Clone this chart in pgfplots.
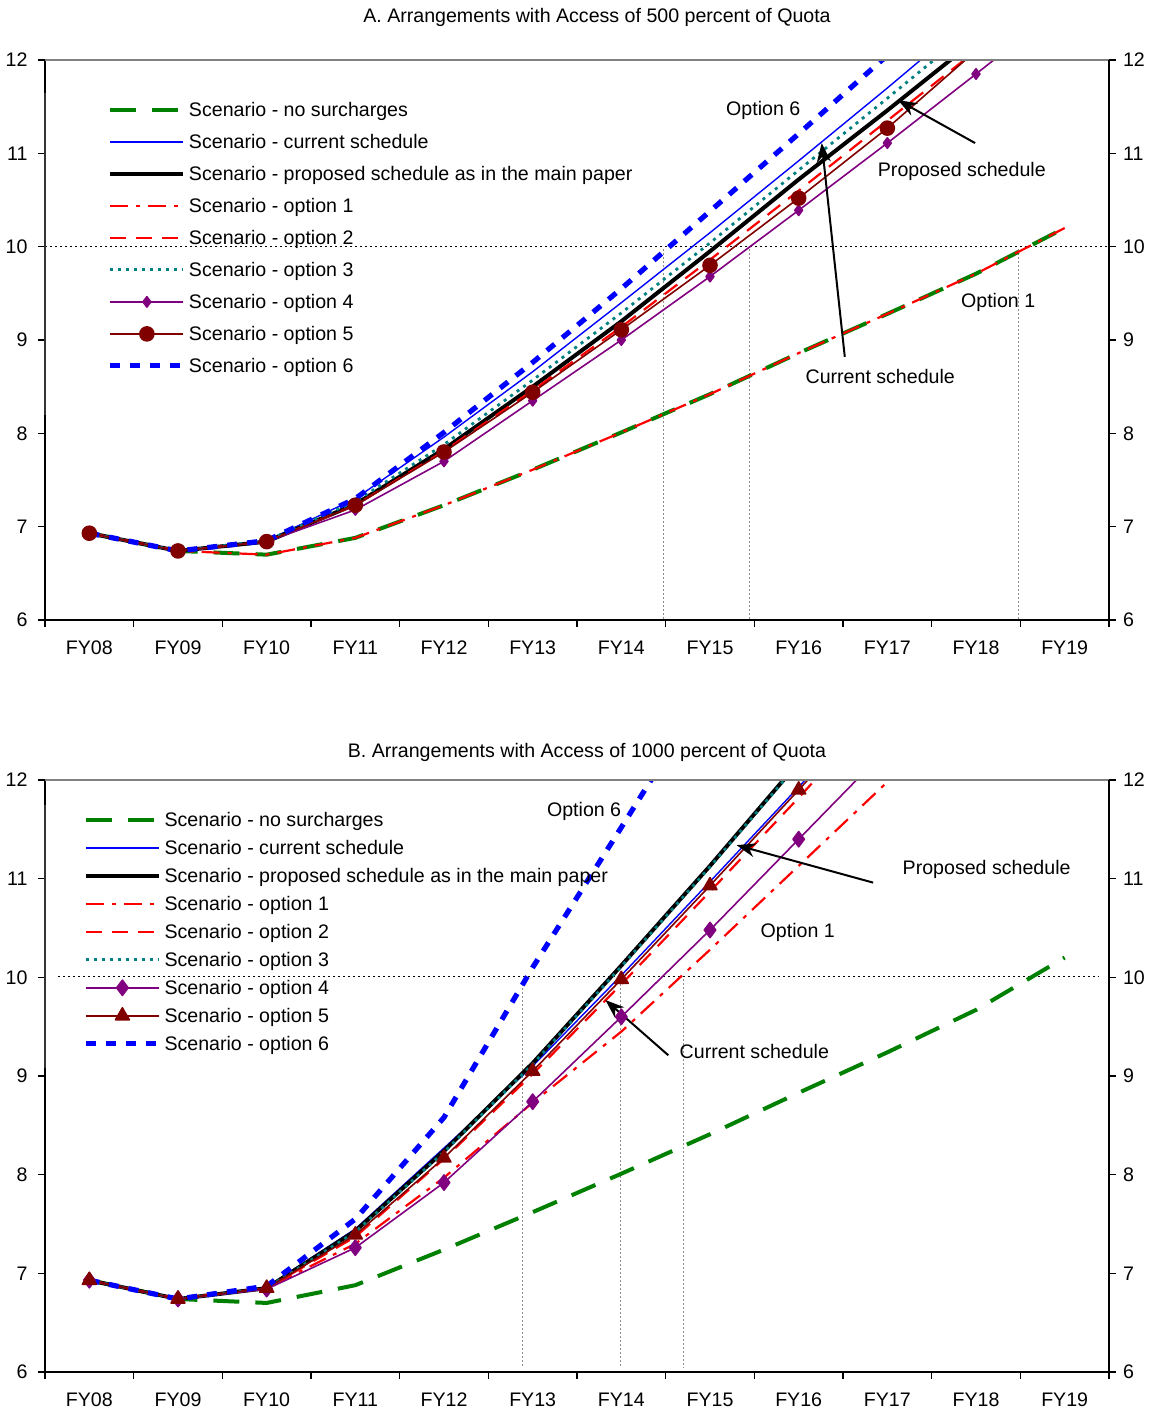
\documentclass[border=0pt]{standalone}
\usepackage{pgfplots}
\usepackage{pgfplotstable}
\pgfplotsset{compat=1.18}
\usepackage{fontspec}
\setmainfont{Liberation Sans}
\usetikzlibrary{arrows.meta}
\definecolor{ggreen}{RGB}{0,128,0}
\definecolor{tteal}{RGB}{0,128,128}
\definecolor{ppurple}{RGB}{128,0,128}
\definecolor{dred}{RGB}{128,0,0}
\definecolor{bblue}{RGB}{0,0,255}
\definecolor{rred}{RGB}{255,0,0}
\newcommand{\fs}{\fontsize{9.8}{11.8}\selectfont}

\pgfplotstableread{
x nosur cur prop o1 o2 o3 o4 o5 o6
0 6.93 6.93 6.93 6.93 6.93 6.93 6.93 6.93 6.93
1 6.74 6.74 6.74 6.74 6.74 6.74 6.74 6.74 6.74
2 6.70 6.85 6.84 6.70 6.84 6.85 6.84 6.84 6.85
3 6.88 7.30 7.24 6.88 7.23 7.27 7.18 7.23 7.30
4 7.23 7.96 7.83 7.23 7.81 7.88 7.70 7.80 8.01
5 7.61 8.66 8.50 7.61 8.46 8.57 8.35 8.44 8.76
6 8.01 9.40 9.20 8.01 9.14 9.29 9.00 9.11 9.55
7 8.42 10.15 9.95 8.42 9.86 10.04 9.68 9.80 10.38
8 8.86 10.92 10.72 8.86 10.60 10.82 10.39 10.52 11.21
9 9.28 11.70 11.46 9.28 11.35 11.59 11.11 11.27 12.05
10 9.71 12.50 12.22 9.71 12.10 12.37 11.85 12.10 12.90
11 10.20 13.30 13.00 10.20 12.85 13.15 12.60 12.90 13.75
}\tableA

\pgfplotstableread{
x nosur cur prop o1 o2 o3 o4 o5 o6
0 6.93 6.93 6.93 6.93 6.93 6.93 6.93 6.93 6.93
1 6.74 6.74 6.74 6.74 6.74 6.74 6.74 6.74 6.74
2 6.70 6.86 6.85 6.85 6.85 6.85 6.84 6.85 6.87
3 6.88 7.45 7.43 7.30 7.37 7.42 7.26 7.39 7.55
4 7.24 8.27 8.24 7.97 8.16 8.23 7.92 8.17 8.58
5 7.62 9.10 9.13 8.73 9.02 9.12 8.74 9.05 10.10
6 8.01 10.02 10.12 9.45 9.93 10.11 9.60 9.98 11.52
7 8.41 10.97 11.13 10.28 10.87 11.12 10.48 10.93 12.95
8 8.83 11.93 12.18 11.13 11.82 12.17 11.40 11.90 14.40
9 9.24 12.90 13.25 11.98 12.80 13.24 12.32 12.88 15.80
10 9.67 13.90 14.30 12.85 13.80 14.30 13.25 13.87 17.20
11 10.20 14.90 15.35 13.72 14.80 15.35 14.18 14.86 18.60
}\tableB

\tikzset{
  arr/.style={black, line width=1pt, -{Stealth[length=9.5pt,width=7pt]}},
}
\pgfplotsset{
  sNoSur/.style={color=ggreen, line width=2pt, dash pattern=on 13pt off 8pt},
  sCur/.style={color=bblue, line width=0.7pt},
  sProp/.style={color=black, line width=2pt},
  sO1/.style={color=rred, line width=1.1pt, dash pattern=on 9pt off 4pt on 2pt off 4pt},
  sO2/.style={color=rred, line width=1.1pt, dash pattern=on 8pt off 5pt},
  sO3/.style={color=tteal, line width=1.4pt, dash pattern=on 1.5pt off 2.5pt},
  sO4/.style={color=ppurple, line width=0.8pt},
  sO5/.style={color=dred, line width=0.8pt},
  sO6/.style={color=bblue, line width=2.6pt, dash pattern=on 5pt off 5pt},
  baseax/.style={scale only axis, width=532pt, xmin=-0.5, xmax=11.5, ymin=6, ymax=12,
    anchor=south west, axis line style={draw=none},
    tick align=outside, major tick length=3.5pt, tick style={black, line width=0.6pt},
    /pgf/number format/assume math mode=true,
    ticklabel style={font=\fs}, ytick={6,...,12}},
  mainax/.style={baseax,
    xtick={-0.5,0.5,...,11.5}, xticklabels={},
    extra x ticks={0,...,11},
    extra x tick labels={FY08,FY09,FY10,FY11,FY12,FY13,FY14,FY15,FY16,FY17,FY18,FY19},
    extra x tick style={tick style={draw=none}, xticklabel style={yshift=-3.5pt}},
    xtick pos=left, ytick pos=left, yticklabel style={xshift=-1.7pt},
    legend cell align=left,
    legend image code/.code={\draw[mark repeat=2,mark phase=2,##1] plot coordinates {(0pt,0pt) (18.25pt,0pt) (36.5pt,0pt)};},
    line join=round},
  rightax/.style={baseax, xtick=\empty, ytick pos=right, yticklabel pos=right, clip=false},
  refl/.style={black, line width=0.5pt, dash pattern=on 1pt off 1.5pt, forget plot},
  dropl/.style={black!45, line width=0.5pt, dash pattern=on 1pt off 1pt, forget plot},
}

\begin{document}
\begin{tikzpicture}
\path[use as bounding box] (0pt,0pt) rectangle (577pt,-706pt);
\node[font=\fs] at (298.5pt,-8.5pt) {A. Arrangements with Access of 500 percent of Quota};
\node[font=\fs] at (293.5pt,-376pt) {B. Arrangements with Access of 1000 percent of Quota};

% ---------------- Panel A ----------------
\begin{axis}[mainax, height=280pt, at={(22.5pt,-310pt)},
  legend style={draw=none, fill=none, at={(rel axis cs:0.059,0.927)}, anchor=north west,
    font=\fs, inner sep=0pt, outer sep=0pt, row sep=7pt, column sep=1.5pt,
    nodes={inner sep=0pt, text height=8pt, text depth=1pt}}]
\addplot[refl] coordinates {(-0.5,10) (11.5,10)};
\addplot[dropl] coordinates {(6.47,9.97) (6.47,6)};
\addplot[dropl] coordinates {(7.45,9.97) (7.45,6)};
\addplot[dropl] coordinates {(10.48,9.97) (10.48,6)};
\addplot[sNoSur] table[x=x,y=nosur]{\tableA};
\addlegendentry{Scenario - no surcharges}
\addplot[sCur] table[x=x,y=cur]{\tableA};
\addlegendentry{Scenario - current schedule}
\addplot[sProp] table[x=x,y=prop]{\tableA};
\addlegendentry{Scenario - proposed schedule as in the main paper}
\addplot[sO1] table[x=x,y=o1]{\tableA};
\addlegendentry{Scenario - option 1}
\addplot[sO2] table[x=x,y=o2]{\tableA};
\addlegendentry{Scenario - option 2}
\addplot[sO3] table[x=x,y=o3]{\tableA};
\addlegendentry{Scenario - option 3}
\addplot[sO4, mark=diamond*, mark size=2.6pt, mark options={solid, fill=ppurple}] table[x=x,y=o4]{\tableA};
\addlegendentry{Scenario - option 4}
\addplot[sO5, mark=*, mark size=3.5pt, mark options={solid, fill=dred}] table[x=x,y=o5]{\tableA};
\addlegendentry{Scenario - option 5}
\addplot[sO6] table[x=x,y=o6]{\tableA};
\addlegendentry{Scenario - option 6}
\draw[arr] (axis cs:9.99,11.11) -- (axis cs:9.12,11.57);
\draw[arr] (axis cs:8.52,8.82) -- (axis cs:8.26,11.11);
\node[font=\fs] at (axis cs:7.60,11.46) {Option 6};
\node[font=\fs] at (axis cs:9.84,10.81) {Proposed schedule};
\node[font=\fs] at (axis cs:10.25,9.40) {Option 1};
\node[font=\fs] at (axis cs:8.92,8.61) {Current schedule};
\end{axis}
\begin{axis}[rightax, height=280pt, at={(22.5pt,-310pt)}]
\addplot[draw=none, forget plot] coordinates {(0,6)};
\draw[black!80, line width=0.6pt] (rel axis cs:0,0) -- (rel axis cs:0,1);
\draw[black, line width=1pt] (rel axis cs:0,1) -- (rel axis cs:0,0.941);
\draw[black, line width=1pt] (rel axis cs:0,0) -- (rel axis cs:0,0.366);
\draw[black!50, line width=1pt] (rel axis cs:0,1) -- (rel axis cs:1,1);
\draw[black, line width=1pt] (rel axis cs:0,0) -- (rel axis cs:1,0);
\draw[black, line width=1pt] (rel axis cs:1,0) -- (rel axis cs:1,1);
\end{axis}

% ---------------- Panel B ----------------
\begin{axis}[mainax, height=296pt, at={(22.5pt,-686pt)},
  legend style={draw=none, fill=none, at={(rel axis cs:0.036,0.948)}, anchor=north west,
    font=\fs, inner sep=0pt, outer sep=0pt, row sep=5pt, column sep=1.5pt,
    nodes={inner sep=0pt, text height=8pt, text depth=1pt}}]
\addplot[refl] coordinates {(-0.353,10.01) (11.38,10.01)};
\addplot[dropl] coordinates {(4.89,9.93) (4.89,6.04)};
\addplot[dropl] coordinates {(5.99,9.97) (5.99,6.04)};
\addplot[dropl] coordinates {(6.70,9.98) (6.70,6.04)};
\addplot[sNoSur] table[x=x,y=nosur]{\tableB};
\addlegendentry{Scenario - no surcharges}
\addplot[sCur] table[x=x,y=cur]{\tableB};
\addlegendentry{Scenario - current schedule}
\addplot[sProp] table[x=x,y=prop]{\tableB};
\addlegendentry{Scenario - proposed schedule as in the main paper}
\addplot[sO1] table[x=x,y=o1]{\tableB};
\addlegendentry{Scenario - option 1}
\addplot[sO2] table[x=x,y=o2]{\tableB};
\addlegendentry{Scenario - option 2}
\addplot[sO3] table[x=x,y=o3]{\tableB};
\addlegendentry{Scenario - option 3}
\addplot[sO4, mark=diamond*, mark size=3.8pt, mark options={solid, fill=ppurple}] table[x=x,y=o4]{\tableB};
\addlegendentry{Scenario - option 4}
\addplot[sO5, mark=triangle*, mark size=4pt, mark options={solid, fill=dred}] table[x=x,y=o5]{\tableB};
\addlegendentry{Scenario - option 5}
\addplot[sO6] table[x=x,y=o6]{\tableB};
\addlegendentry{Scenario - option 6}
\draw[arr] (axis cs:8.84,10.96) -- (axis cs:7.30,11.34);
\draw[arr] (axis cs:6.53,9.21) -- (axis cs:5.82,9.77);
\node[font=\fs] at (axis cs:5.58,11.68) {Option 6};
\node[font=\fs] at (axis cs:10.12,11.09) {Proposed schedule};
\node[font=\fs] at (axis cs:7.99,10.46) {Option 1};
\node[font=\fs] at (axis cs:7.50,9.25) {Current schedule};
\end{axis}
\begin{axis}[rightax, height=296pt, at={(22.5pt,-686pt)}]
\addplot[draw=none, forget plot] coordinates {(0,6)};
\draw[black!80, line width=0.6pt] (rel axis cs:0,0) -- (rel axis cs:0,1);
\draw[black, line width=1pt] (rel axis cs:0,1) -- (rel axis cs:0,0.958);
\draw[black, line width=1pt] (rel axis cs:0,0) -- (rel axis cs:0,0.514);
\draw[black!50, line width=1pt] (rel axis cs:0,1) -- (rel axis cs:1,1);
\draw[black, line width=1pt] (rel axis cs:0,0) -- (rel axis cs:1,0);
\draw[black, line width=1pt] (rel axis cs:1,0) -- (rel axis cs:1,1);
\end{axis}
\end{tikzpicture}
\end{document}
